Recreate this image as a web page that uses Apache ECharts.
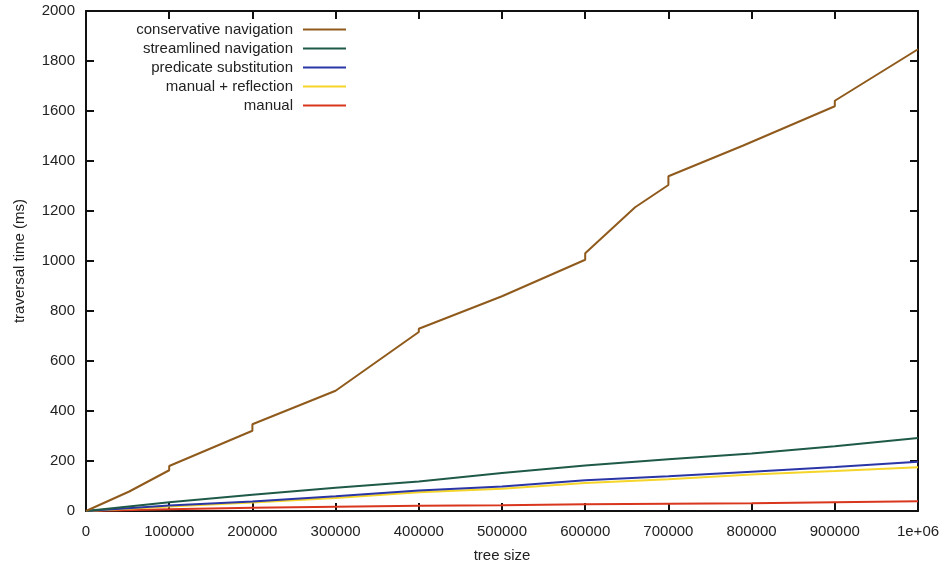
<!DOCTYPE html>
<html>
<head>
<meta charset="utf-8">
<script src="https://cdn.jsdelivr.net/npm/echarts@6/dist/echarts.min.js"></script>
<style>
html,body{margin:0;padding:0;background:#fff;}
#chart{width:948px;height:569px;}
</style>
</head>
<body>
<div id="chart"></div>
<script>
// ---- data ----
const seriesNames = ['conservative navigation', 'streamlined navigation', 'predicate substitution', 'manual + reflection', 'manual'];
const seriesColors = ['#8f5a1c', '#1f5a48', '#2b36a6', '#f5d52a', '#d9361e'];

const conservativeSizes  = [0, 52000, 100000, 100000, 200000, 200000, 300000, 400000, 400000, 500000, 600000, 600000, 660000, 700000, 700000, 790000, 900000, 900000, 1000000];
const conservativeValues = [0, 78, 163, 180, 321, 347, 481, 716, 729, 859, 1005, 1031, 1215, 1304, 1339, 1462, 1619, 1641, 1847];

const treeSizes         = [0, 100000, 200000, 300000, 400000, 500000, 600000, 700000, 800000, 900000, 1000000];
const streamlinedValues = [0, 35, 65, 93, 118, 152, 182, 207, 230, 259, 292];
const predicateValues   = [0, 22, 38, 59, 82, 98, 123, 139, 157, 176, 197];
const reflectionValues  = [0, 18, 34, 52, 75, 89, 112, 127, 146, 160, 175];
const manualValues      = [0, 7, 13, 17, 21, 23, 27, 29, 31, 35, 39];

const xTickLabels = ['0', '100000', '200000', '300000', '400000', '500000', '600000', '700000', '800000', '900000', '1e+06'];
const yTickLabels = ['0', '200', '400', '600', '800', '1000', '1200', '1400', '1600', '1800', '2000'];

// ---- chart ----
function pairs(xs, ys) { return xs.map((x, i) => [x, ys[i]]); }
const seriesData = [
  pairs(conservativeSizes, conservativeValues),
  pairs(treeSizes, streamlinedValues),
  pairs(treeSizes, predicateValues),
  pairs(treeSizes, reflectionValues),
  pairs(treeSizes, manualValues)
];

const FONT = 'Liberation Sans, Helvetica, Arial, sans-serif';
const chart = echarts.init(document.getElementById('chart'), null, {renderer: 'canvas'});

function axisLine() { return {show: true, onZero: false, lineStyle: {color: '#111', width: 2}}; }
function axisTick() { return {show: true, inside: true, length: 8, lineStyle: {color: '#111', width: 2}}; }

chart.setOption({
  animation: false,
  backgroundColor: '#fff',
  textStyle: {fontFamily: FONT},
  grid: {left: 86, right: 30, top: 11, bottom: 58, containLabel: false},
  legend: {
    data: seriesNames,
    orient: 'vertical',
    align: 'right',
    right: 602,
    top: 20,
    padding: 0,
    itemGap: 0,
    itemWidth: 43,
    itemHeight: 2,
    icon: 'rect',
    selectedMode: false,
    textStyle: {fontFamily: FONT, fontSize: 15, color: '#222', lineHeight: 19, padding: [0, 5, 0, 0]}
  },
  xAxis: [
    {
      type: 'value', position: 'bottom', min: 0, max: 1000000, interval: 100000,
      name: 'tree size', nameLocation: 'middle', nameGap: 37,
      nameTextStyle: {fontFamily: FONT, fontSize: 15, color: '#222'},
      axisLine: axisLine(), axisTick: axisTick(), splitLine: {show: false},
      axisLabel: {fontFamily: FONT, fontSize: 15, color: '#222', margin: 13,
        formatter: v => xTickLabels[Math.round(v / 100000)]}
    },
    {
      type: 'value', position: 'top', min: 0, max: 1000000, interval: 100000,
      axisLine: axisLine(), axisTick: axisTick(), splitLine: {show: false}, axisLabel: {show: false}
    }
  ],
  yAxis: [
    {
      type: 'value', position: 'left', min: 0, max: 2000, interval: 200,
      name: 'traversal time (ms)', nameLocation: 'middle', nameGap: 59, nameRotate: 90,
      nameTextStyle: {fontFamily: FONT, fontSize: 15, color: '#222'},
      axisLine: axisLine(), axisTick: axisTick(), splitLine: {show: false},
      axisLabel: {fontFamily: FONT, fontSize: 15, color: '#222', margin: 11,
        formatter: v => yTickLabels[Math.round(v / 200)]}
    },
    {
      type: 'value', position: 'right', min: 0, max: 2000, interval: 200,
      axisLine: axisLine(), axisTick: axisTick(), splitLine: {show: false}, axisLabel: {show: false}
    }
  ],
  series: seriesNames.map((name, i) => ({
    name: name,
    type: 'line',
    xAxisIndex: 0,
    yAxisIndex: 0,
    data: seriesData[i],
    showSymbol: false,
    symbol: 'none',
    color: seriesColors[i],
    lineStyle: {color: seriesColors[i], width: 2},
    z: 10 - i
  }))
});
</script>
</body>
</html>
